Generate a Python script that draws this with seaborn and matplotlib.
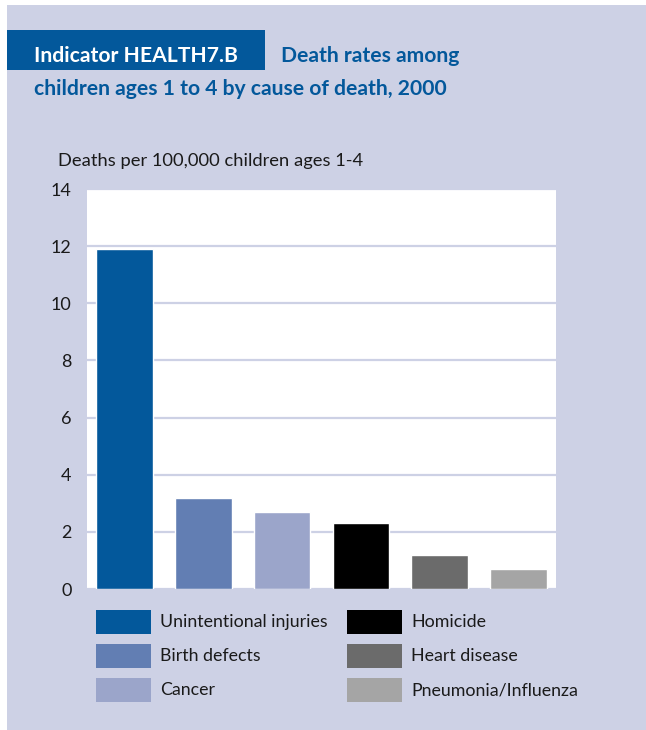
import matplotlib
matplotlib.use("Agg")
import matplotlib.pyplot as plt
import seaborn as sns
import pandas as pd
from matplotlib.patches import Rectangle

categories = ["Unintentional injuries", "Birth defects", "Cancer",
              "Homicide", "Heart disease", "Pneumonia/Influenza"]
values = [11.9, 3.2, 2.7, 2.3, 1.2, 0.7]
colors = ["#03589b", "#627eb3", "#9ba5ca", "#000000", "#6b6b6b", "#a5a5a5"]
yticks = [0, 2, 4, 6, 8, 10, 12, 14]

BG = "#cdd1e5"
BLUE = "#03589b"
TXT = "#1a1a1a"

sns.set_theme(style="white")
plt.rcParams["font.family"] = ["Lato", "DejaVu Sans"]

W, H = 646, 730
fig = plt.figure(figsize=(W / 100, H / 100), dpi=100, facecolor="white")

# lavender panel
fig.add_artist(Rectangle((7 / W, 0), 1 - 7 / W, 1 - 5 / H, transform=fig.transFigure,
                         facecolor=BG, edgecolor="none", zorder=0))
# title box
fig.add_artist(Rectangle((7 / W, 1 - 70 / H), (265 - 7) / W, 40 / H, transform=fig.transFigure,
                         facecolor=BLUE, edgecolor="none", zorder=1))
fig.text(34 / W, 1 - 62 / H, "Indicator HEALTH7.B", color="white", fontsize=15.2,
         fontweight="bold", ha="left", va="baseline", zorder=2)
fig.text(281 / W, 1 - 62 / H, "Death rates among", color=BLUE, fontsize=15.2,
         fontweight="bold", ha="left", va="baseline", zorder=2)
fig.text(34 / W, 1 - 95 / H, "children ages 1 to 4 by cause of death, 2000", color=BLUE,
         fontsize=15.2, fontweight="bold", ha="left", va="baseline", zorder=2)

ax = fig.add_axes([87 / W, 1 - 589 / H, (556 - 87) / W, (589 - 189) / H])
ax.set_facecolor("white")
df = pd.DataFrame({"cause": categories, "rate": values})
sns.barplot(data=df, x="cause", y="rate", hue="cause", palette=colors,
            order=categories, hue_order=categories, width=0.72, dodge=False,
            legend=False, ax=ax, saturation=1)
ax.set_ylim(0, 14)
ax.set_xlim(-0.475, 5.475)
ax.set_yticks(yticks)
ax.set_yticklabels([str(t) for t in yticks], fontsize=13, color=TXT)
ax.set_xticks([])
ax.set_xlabel("")
ax.set_ylabel("")
ax.tick_params(axis="y", length=0, pad=11)
for s in ax.spines.values():
    s.set_visible(False)
ax.grid(axis="y", color=BG, linewidth=1.6)
ax.set_axisbelow(True)

fig.text(58 / W, 1 - 166 / H, "Deaths per 100,000 children ages 1-4", fontsize=13.2,
         color=TXT, ha="left", va="baseline")

# legend (manual, two columns)
for i, (cat, col) in enumerate(zip(categories, colors)):
    c, r = divmod(i, 3)
    x0 = [96, 347][c]
    y0 = 610 + r * 34
    fig.add_artist(Rectangle((x0 / W, 1 - (y0 + 24) / H), 55 / W, 24 / H,
                             transform=fig.transFigure, facecolor=col, edgecolor="none"))
    fig.text((x0 + 64) / W, 1 - (y0 + 12) / H, cat, fontsize=12.8, color=TXT,
             ha="left", va="center")

fig.savefig("out.png", dpi=100, facecolor="white")
